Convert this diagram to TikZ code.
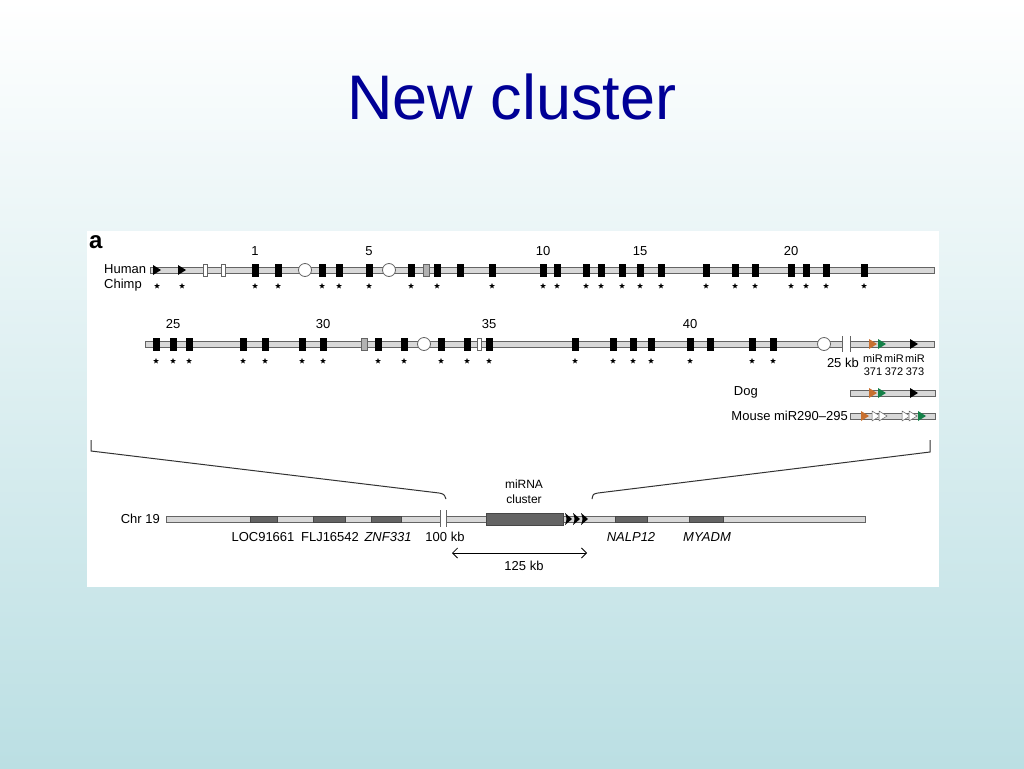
\documentclass[tikz,border=0pt]{standalone}
\usepackage{fontspec}
\setmainfont{Liberation Sans}
\usetikzlibrary{shapes.geometric,arrows.meta}
\definecolor{titleblue}{RGB}{0,0,150}
\definecolor{slidetop}{RGB}{255,255,255}
\definecolor{slidebottom}{RGB}{187,223,227}
\definecolor{barfill}{RGB}{216,216,216}
\definecolor{barline}{RGB}{100,100,100}
\definecolor{genegray}{RGB}{100,100,100}
\definecolor{mirorange}{RGB}{200,112,48}
\definecolor{mirgreen}{RGB}{20,128,72}

\begin{document}
\begin{tikzpicture}[x=1pt,y=-1pt,
	every node/.style={inner sep=0pt, font=\fontsize{13}{15}\selectfont},
	bar/.style={draw=barline, fill=barfill, line width=0.8pt},
	exon/.style={rectangle, draw=black, fill=black, minimum width=6pt, minimum height=12pt},
	grayexon/.style={exon, draw=barline, fill=gray!60},
	openexon/.style={exon, draw=barline, fill=white, minimum width=4pt, line width=0.6pt},
	loopnode/.style={circle, draw=barline, fill=white, minimum size=13pt, line width=0.8pt},
	conserved/.style={star, star points=5, star point ratio=2.4, fill=black, minimum size=6pt},
	gene/.style={draw=genegray!70!black, fill=genegray, line width=0.6pt},
	breakmark/.style={draw=barline, line width=0.9pt},
	hairpin/.pic={\path[pic actions] (-4,-5) -- (4,0) -- (-4,5) -- cycle;},
	bigpin/.pic={\path[pic actions] (-3,-6) .. controls (0,-3) .. (4,0) .. controls (0,3) .. (-3,6) .. controls (-1,0) .. (-3,-6) -- cycle;}]

	% slide background and panel
	\shade[top color=slidetop, bottom color=slidebottom] (0,0) rectangle (1024,768);
	\useasboundingbox (0,0) rectangle (1024,768);
	\node[font=\fontsize{63}{68}\selectfont, text=titleblue] (title) at (512,97) {New cluster};
	\fill[white] (87,231) rectangle (939,587);
	\node[font=\fontsize{24}{26}\selectfont\bfseries, anchor=west] (panel) at (89,242) {a};

	% first row, human with chimp below
	\node[anchor=west] (human) at (104,269) {Human};
	\node[anchor=west] (chimp) at (104,285) {Chimp};
	\draw[bar] (150,267) rectangle (934,273);
	\foreach \x in {157,182} \pic[fill=black] at (\x,270) {hairpin};
	\foreach \x in {205,223} \node[openexon] (o\x) at (\x,270) {};
	\foreach \x in {305,389} \node[loopnode] (c\x) at (\x,270) {};
	\node[grayexon] (g426) at (426,270) {};
	\foreach \x in {255,278,322,339,369,411,437,460,492,543,557,586,601,622,640,661,706,735,755,791,806,826,864}
		\node[exon] (a\x) at (\x,270) {};
	\foreach \x in {157,182,255,278,322,339,369,411,437,492,543,557,586,601,622,640,661,706,735,755,791,806,826,864}
		\node[conserved] (s\x) at (\x,286) {};
	\foreach \n/\x in {1/255,5/369,10/543,15/640,20/791}
		\node (n\n) at (\x,251) {\n};

	% second row
	\draw[bar] (145,341) rectangle (842,347);
	\draw[bar] (850,341) rectangle (934,347);
	\draw[breakmark] (842,336) -- (842,352);
	\draw[breakmark] (850,336) -- (850,352);
	\foreach \x in {424,824} \node[loopnode] (c\x) at (\x,344) {};
	\node[grayexon] (g364) at (364,344) {};
	\node[openexon] (o479) at (479,344) {};
	\foreach \x in {156,173,189,243,265,302,323,378,404,441,467,489,575,613,633,651,690,710,752,773}
		\node[exon] (b\x) at (\x,344) {};
	\foreach \x in {156,173,189,243,265,302,323,378,404,441,467,489,575,613,633,651,690,752,773}
		\node[conserved] (t\x) at (\x,361) {};
	\foreach \n/\x in {25/173,30/323,35/489,40/690}
		\node (n\n) at (\x,324) {\n};
	\pic[fill=mirorange] at (873,344) {hairpin};
	\pic[fill=mirgreen] at (882,344) {hairpin};
	\pic[fill=black] at (914,344) {hairpin};
	\node[anchor=east] (kb25) at (859,363) {25 kb};
	\foreach \n/\x in {371/873,372/894,373/915} {
		\node[font=\fontsize{11}{12}\selectfont] (m\n) at (\x,359) {miR};
		\node[font=\fontsize{11}{12}\selectfont] (l\n) at (\x,372) {\n};
	}

	% dog and mouse
	\node[anchor=east] (dog) at (758,392) {Dog};
	\draw[bar] (850,390) rectangle (935,396);
	\pic[fill=mirorange] at (873,393) {hairpin};
	\pic[fill=mirgreen] at (882,393) {hairpin};
	\pic[fill=black] at (914,393) {hairpin};
	\node[anchor=east] (mouse) at (848,416) {Mouse miR290–295};
	\draw[bar] (850,413) rectangle (935,419);
	\pic[fill=mirorange] at (865,416) {hairpin};
	\foreach \x in {876,883,906,913} \pic[fill=white, draw=barline, line width=0.5pt] at (\x,416) {hairpin};
	\pic[fill=mirgreen] at (922,416) {hairpin};

	% chromosome 19
	\node[anchor=east] (chr) at (160,519) {Chr 19};
	\draw[bar] (166,516) rectangle (440,522);
	\draw[bar] (446,516) rectangle (865,522);
	\draw[breakmark] (440,510) -- (440,527);
	\draw[breakmark] (446,510) -- (446,527);
	\foreach \a/\b in {250/277,313/345,371/401,615/647,689/723}
		\draw[gene] (\a,516) rectangle (\b,522);
	\draw[gene] (486,513) rectangle (563,525);
	\foreach \x in {568,576,584} \pic[fill=black] at (\x,519) {bigpin};
	\node (miRNA) [align=center, font=\fontsize{12}{15}\selectfont] at (524,492) {miRNA\\cluster};
	\node (loc) at (263,537) {LOC91661};
	\node (flj) at (330,537) {FLJ16542};
	\node (znf) at (388,537) {\itshape ZNF331};
	\node (kb100) at (445,537) {100 kb};
	\node (nalp) at (631,537) {\itshape NALP12};
	\node (myadm) at (707,537) {\itshape MYADM};

	% zoom brackets and scale
	\coordinate (lefttop) at (91,440);
	\coordinate (leftfoot) at (446,499);
	\coordinate (righttop) at (930,440);
	\coordinate (rightfoot) at (592,499);
	\draw[line width=1pt, draw=black!80] (lefttop) -- ++(0,11) -- (439,493) .. controls (444,494) .. (leftfoot);
	\draw[line width=1pt, draw=black!80] (righttop) -- ++(0,12) -- (598,493) .. controls (593,494) .. (rightfoot);
	\coordinate (spanleft) at (452,553);
	\coordinate (spanright) at (587,553);
	\draw[{Straight Barb[length=5pt]}-{Straight Barb[length=5pt]}, line width=0.8pt] (spanleft) -- (spanright);
	\node (span) at (524,566) {125 kb};
\end{tikzpicture}
\end{document}
